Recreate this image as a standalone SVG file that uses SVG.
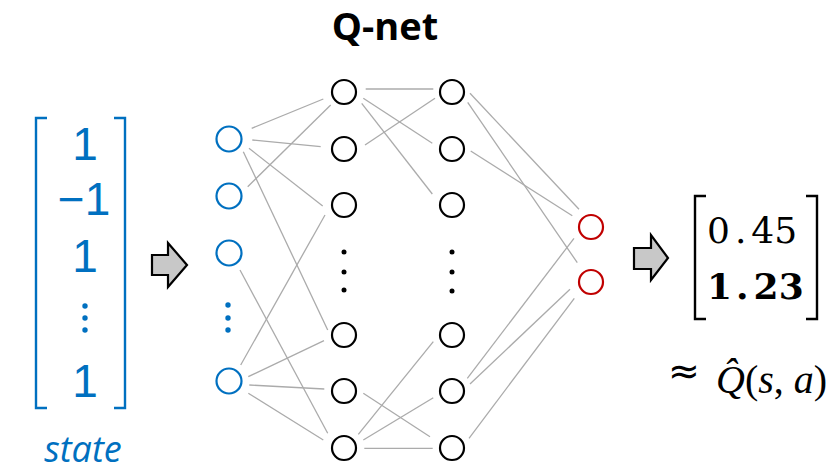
<svg xmlns="http://www.w3.org/2000/svg" width="836" height="472" viewBox="0 0 836 472">
<style>
.in{fill:none;stroke:#0070C0;stroke-width:2.2}
.hid{fill:none;stroke:#000;stroke-width:2.2}
.out{fill:none;stroke:#C00000;stroke-width:2.2}
.edge{stroke:#ABABAB;stroke-width:1.3;fill:none}
.vec{font-family:"Liberation Sans",Arial,sans-serif;font-size:46px;fill:#0070C0;text-anchor:middle}
.arrow{fill:#C8C8C8;stroke:#000;stroke-width:2.2;stroke-linejoin:miter}
.brk{fill:none;stroke-width:2.4}
.num{font-family:"DejaVu Serif",serif;font-size:36px;fill:#000}
.math{font-family:"Liberation Serif",serif;font-size:40px;fill:#000}
</style>
<rect width="836" height="472" fill="#fff"/>

<g id="title"><text x="385" y="40" font-family="'Open Sans',sans-serif" font-weight="bold" font-size="38" text-anchor="middle">Q-net</text></g>

<g id="state-vector">
<path class="brk" stroke="#0070C0" d="M47,118 H36 V408 H47 M114,118 H125 V408 H114"/>
<text class="vec" x="85" y="160">1</text>
<text class="vec" x="84" y="215">−1</text>
<text class="vec" x="85" y="272">1</text>
<g fill="#0070C0"><circle cx="85" cy="306" r="2.7"/><circle cx="85" cy="318" r="2.7"/><circle cx="85" cy="330" r="2.7"/></g>
<text class="vec" x="85" y="397">1</text>
<text x="83" y="462" font-family="'Open Sans',sans-serif" font-style="italic" font-size="36" fill="#0070C0" text-anchor="middle">state</text>
</g>

<g id="arrow-in"><path class="arrow" d="M152,255 H168 V243 L187,265 L168,287 V275 H152 Z"/></g>
<g id="arrow-out"><path class="arrow" d="M634,248 H651 V235 L668,258 L651,280 V269 H634 Z"/></g>

<g id="connectors" class="edge">
<line x1="251.7" y1="128.3" x2="323.3" y2="99"/>
<line x1="247.7" y1="186.7" x2="330.7" y2="105"/>
<line x1="252.3" y1="140" x2="320.7" y2="146.7"/>
<line x1="249" y1="148.3" x2="322.7" y2="206"/>
<line x1="243.3" y1="151.7" x2="327.7" y2="330"/>
<line x1="240" y1="270" x2="327.7" y2="433.3"/>
<line x1="240.7" y1="365" x2="325" y2="215"/>
<line x1="248.3" y1="376.7" x2="324" y2="340.7"/>
<line x1="249.3" y1="385" x2="324.3" y2="389"/>
<line x1="248.3" y1="393.3" x2="323.3" y2="440"/>
<line x1="365.7" y1="89" x2="433.3" y2="89"/>
<line x1="363.3" y1="98.3" x2="432.3" y2="143.3"/>
<line x1="361.7" y1="103.3" x2="432.3" y2="194"/>
<line x1="365" y1="145" x2="435" y2="98.3"/>
<line x1="363.3" y1="393.3" x2="430" y2="436.7"/>
<line x1="358.3" y1="434.3" x2="433.3" y2="341.7"/>
<line x1="363.3" y1="440" x2="433.3" y2="397.7"/>
<line x1="364.3" y1="448.3" x2="432.7" y2="448.3"/>
<line x1="470" y1="93.3" x2="579" y2="209.3"/>
<line x1="467.7" y1="102.3" x2="577.3" y2="262.7"/>
<line x1="470.7" y1="151" x2="572.3" y2="215.7"/>
<line x1="467.3" y1="378.3" x2="574" y2="238.3"/>
<line x1="470" y1="384" x2="570" y2="289.3"/>
<line x1="469" y1="438.3" x2="574.3" y2="298.3"/>
</g>

<g id="input-layer">
<circle class="in" cx="229" cy="139" r="12.5"/>
<circle class="in" cx="229" cy="196" r="12.5"/>
<circle class="in" cx="229" cy="253" r="12.5"/>
<g fill="#0070C0"><circle cx="228" cy="305" r="2.7"/><circle cx="228" cy="318" r="2.7"/><circle cx="228" cy="330" r="2.7"/></g>
<circle class="in" cx="229" cy="381" r="12.5"/>
</g>

<g id="hidden-layer-1">
<circle class="hid" cx="344" cy="92" r="12"/>
<circle class="hid" cx="344" cy="149" r="12"/>
<circle class="hid" cx="344" cy="205" r="12"/>
<circle cx="344" cy="252" r="2.5"/><circle cx="344" cy="272" r="2.5"/><circle cx="344" cy="290" r="2.5"/>
<circle class="hid" cx="344" cy="335" r="12"/>
<circle class="hid" cx="344" cy="391" r="12"/>
<circle class="hid" cx="344" cy="448" r="12"/>
</g>

<g id="hidden-layer-2">
<circle class="hid" cx="452" cy="92" r="12"/>
<circle class="hid" cx="452" cy="149" r="12"/>
<circle class="hid" cx="452" cy="205" r="12"/>
<circle cx="452" cy="252" r="2.5"/><circle cx="452" cy="272" r="2.5"/><circle cx="452" cy="291" r="2.5"/>
<circle class="hid" cx="452" cy="335" r="12"/>
<circle class="hid" cx="452" cy="391" r="12"/>
<circle class="hid" cx="452" cy="448" r="12"/>
</g>

<g id="output-layer">
<circle class="out" cx="591" cy="227" r="12"/>
<circle class="out" cx="591" cy="282" r="12"/>
</g>

<g id="q-values">
<path class="brk" stroke="#000" d="M706,196 H695 V319 H706 M806,196 H817 V319 H806"/>
<text class="num" x="707" y="243">0<tspan dx="5">.</tspan><tspan dx="5">45</tspan></text>
<text class="num" x="707" y="299" font-weight="bold" font-size="37">1<tspan dx="4">.</tspan><tspan dx="5">23</tspan></text>
</g>

<g id="q-hat">
<text x="684" y="384" font-family="'DejaVu Sans',sans-serif" font-size="38" text-anchor="middle">≈</text>
<text class="math" y="393"><tspan x="716" font-style="italic">Q̂</tspan><tspan>(</tspan><tspan font-style="italic">s</tspan><tspan>, </tspan><tspan font-style="italic">a</tspan><tspan>)</tspan></text>
</g>
</svg>
